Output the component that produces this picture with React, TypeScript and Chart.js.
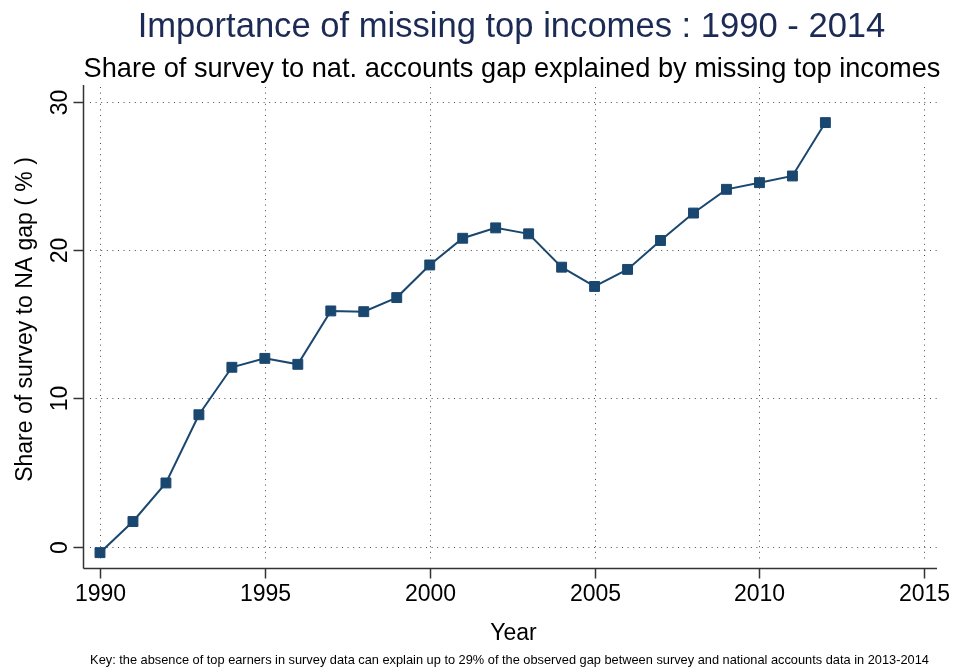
import React, { useEffect, useRef } from "react";
import { Chart, registerables } from "chart.js";

Chart.register(...registerables);

const YEARS = [1990, 1991, 1992, 1993, 1994, 1995, 1996, 1997, 1998, 1999, 2000, 2001, 2002, 2003, 2004, 2005, 2006, 2007, 2008, 2009, 2010, 2011, 2012];
const SHARE = [-0.4, 1.7, 4.3, 8.9, 12.1, 12.7, 12.3, 15.9, 15.85, 16.8, 19.0, 20.8, 21.5, 21.1, 18.85, 17.55, 18.7, 20.65, 22.5, 24.1, 24.55, 25.0, 28.6];
const X_TICKS = [1990, 1995, 2000, 2005, 2010, 2015];
const Y_TICKS = [0, 10, 20, 30];

const TITLE = "Importance of missing top incomes : 1990 - 2014";
const SUBTITLE = "Share of survey to nat. accounts gap explained by missing top incomes";
const Y_TITLE = "Share of survey to NA gap ( % )";
const X_TITLE = "Year";
const NOTE = "Key: the absence of top earners in survey data can explain up to 29% of the observed gap between survey and national accounts data in 2013-2014";

const FONT = '"Liberation Sans", Arial, Helvetica, sans-serif';
const NAVY = "#1a476f";

const stataPlugin = {
  id: "stataAxes",
  beforeDraw(chart: any) {
    const { ctx, width, height } = chart;
    ctx.save();
    ctx.fillStyle = "#ffffff";
    ctx.fillRect(0, 0, width, height);
    ctx.restore();
  },
  beforeDatasetsDraw(chart: any) {
    const { ctx, chartArea: a, scales } = chart;
    const x = scales.x;
    const y = scales.y;
    ctx.save();
    ctx.strokeStyle = "#4a4a4a";
    ctx.lineWidth = 1;
    ctx.setLineDash([1, 4.6]);
    for (const t of X_TICKS) {
      const px = Math.round(x.getPixelForValue(t)) + 0.5;
      ctx.beginPath();
      ctx.moveTo(px, a.top);
      ctx.lineTo(px, a.bottom);
      ctx.stroke();
    }
    for (const t of Y_TICKS) {
      const py = Math.round(y.getPixelForValue(t)) + 0.5;
      ctx.beginPath();
      ctx.moveTo(a.left, py);
      ctx.lineTo(a.right, py);
      ctx.stroke();
    }
    ctx.restore();
  },
  afterDraw(chart: any) {
    const { ctx, chartArea: a, scales } = chart;
    const x = scales.x;
    const y = scales.y;
    const axX = Math.round(a.left - 7) + 0.5;
    const axY = Math.round(a.bottom + 6) + 0.5;
    ctx.save();
    ctx.strokeStyle = "#333333";
    ctx.lineWidth = 1.5;
    ctx.setLineDash([]);
    ctx.beginPath();
    ctx.moveTo(axX, a.top - 2);
    ctx.lineTo(axX, axY);
    ctx.stroke();
    ctx.beginPath();
    ctx.moveTo(axX, axY);
    ctx.lineTo(a.right, axY);
    ctx.stroke();
    ctx.fillStyle = "#000000";
    ctx.font = `23px ${FONT}`;
    for (const t of X_TICKS) {
      const px = Math.round(x.getPixelForValue(t)) + 0.5;
      ctx.beginPath();
      ctx.moveTo(px, axY);
      ctx.lineTo(px, axY + 10);
      ctx.stroke();
      ctx.textAlign = "center";
      ctx.textBaseline = "alphabetic";
      ctx.fillText(String(t), px, axY + 32);
    }
    for (const t of Y_TICKS) {
      const py = Math.round(y.getPixelForValue(t)) + 0.5;
      ctx.beginPath();
      ctx.moveTo(axX - 10, py);
      ctx.lineTo(axX, py);
      ctx.stroke();
      ctx.save();
      ctx.translate(axX - 17, py);
      ctx.rotate(-Math.PI / 2);
      ctx.textAlign = "center";
      ctx.textBaseline = "alphabetic";
      ctx.fillText(String(t), 0, 0);
      ctx.restore();
    }
    ctx.textAlign = "center";
    ctx.textBaseline = "alphabetic";
    ctx.fillText(X_TITLE, (a.left + a.right) / 2, 640);
    ctx.save();
    ctx.translate(32, (a.top + a.bottom) / 2 - 5);
    ctx.rotate(-Math.PI / 2);
    ctx.fillText(Y_TITLE, 0, 0);
    ctx.restore();
    ctx.fillStyle = "#1c2b55";
    ctx.font = `34.6px ${FONT}`;
    ctx.fillText(TITLE, 511.5, 37);
    ctx.fillStyle = "#000000";
    ctx.font = `27.2px ${FONT}`;
    ctx.fillText(SUBTITLE, 512, 77);
    ctx.font = `12.8px ${FONT}`;
    ctx.fillText(NOTE, 509.5, 664);
    ctx.restore();
  },
};

export default function App() {
  const ref = useRef<HTMLCanvasElement | null>(null);
  useEffect(() => {
    if (!ref.current) return;
    const chart = new Chart(ref.current, {
      type: "line",
      data: {
        labels: YEARS,
        datasets: [
          {
            data: YEARS.map((yr, i) => ({ x: yr, y: SHARE[i] })),
            borderColor: NAVY,
            backgroundColor: NAVY,
            borderWidth: 2,
            pointStyle: "rect",
            pointRadius: 7,
            pointBackgroundColor: NAVY,
            pointBorderColor: NAVY,
            pointBorderWidth: 1,
            tension: 0,
            clip: false as any,
          },
        ],
      },
      options: {
        responsive: false,
        animation: false,
        devicePixelRatio: 1,
        layout: { padding: { left: 90, right: 17, top: 87, bottom: 106 } },
        plugins: { legend: { display: false }, tooltip: { enabled: false }, title: { display: false } },
        scales: {
          x: { type: "linear", min: 1989.697, max: 2015.385, display: false },
          y: { type: "linear", min: -1.03, max: 31.0, display: false },
        },
      },
      plugins: [stataPlugin],
    });
    return () => chart.destroy();
  }, []);
  return (
    <div style={{ position: "fixed", left: 0, top: 0, width: 954, height: 668, background: "#fff" }}>
      <canvas ref={ref} width={954} height={668} style={{ display: "block" }} />
    </div>
  );
}
